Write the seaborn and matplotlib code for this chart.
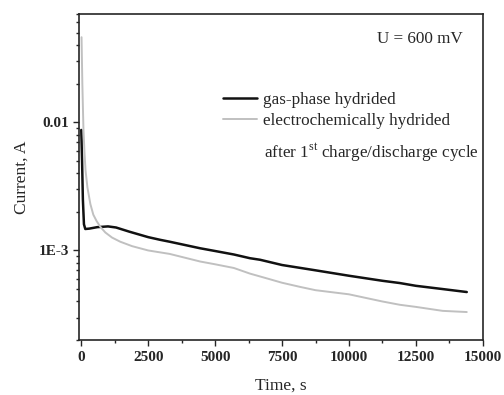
import numpy as np
import pandas as pd
import matplotlib
matplotlib.use("Agg")
import matplotlib.pyplot as plt
import seaborn as sns
from matplotlib.ticker import FixedLocator, FuncFormatter, LogLocator, NullFormatter, MultipleLocator

# data
t_gas = [0, 30, 60, 100, 150, 300, 600, 1000, 1300, 1800, 2500, 2950, 3300, 4440, 5000,
         5700, 6300, 6680, 7500, 8750, 10000, 11250, 11900, 12500, 13500, 14400]
i_gas = [0.0087, 0.005, 0.0025, 0.0016, 0.00147, 0.00148, 0.00152, 0.00154, 0.00151,
         0.0014, 0.00127, 0.00121, 0.00117, 0.00104, 0.00099, 0.00093, 0.00087,
         0.000846, 0.00077, 0.0007, 0.000635, 0.00058, 0.000557, 0.00053, 0.0005,
         0.000474]

t_el = [10, 40, 80, 120, 160, 230, 340, 450, 570, 710, 900, 1150, 1455, 1900, 2500,
        3300, 4440, 5000, 5700, 6300, 7000, 7500, 8170, 8750, 10000, 10660, 11250,
        11900, 12500, 13500, 14400]
i_el = [0.046, 0.02, 0.009, 0.0058, 0.0042, 0.0031, 0.0023, 0.0019, 0.0017, 0.00153,
        0.00138, 0.00126, 0.00117, 0.00108, 0.001, 0.00094, 0.00082, 0.00078,
        0.00073, 0.00066, 0.0006, 0.00056, 0.00052, 0.00049, 0.000455, 0.000425,
        0.0004, 0.000377, 0.000363, 0.000338, 0.000331]

series_names = ["gas-phase hydrided", "electrochemically hydrided"]

df = pd.concat([
    pd.DataFrame({"t": t_gas, "I": i_gas, "s": series_names[0]}),
    pd.DataFrame({"t": t_el, "I": i_el, "s": series_names[1]}),
])

sns.set_style("ticks")
plt.rcParams['font.family'] = ['Liberation Serif', 'DejaVu Serif']
plt.rcParams['mathtext.fontset'] = 'custom'
plt.rcParams['mathtext.rm'] = 'Liberation Serif'

fig = plt.figure(figsize=(5.04, 3.95), dpi=100)
ax = fig.add_axes([0.157, 0.139, 0.801, 0.826])

sns.lineplot(data=df, x="t", y="I", hue="s", palette=["#111111", "#c0c0c0"],
             ax=ax, legend=False, sort=False)
lines = ax.get_lines()
lines[0].set_linewidth(1.8)
lines[1].set_linewidth(1.4)

ax.set_yscale("log")
ax.set_xlim(-80, 15000)
ax.set_ylim(2e-4, 0.07)

ax.xaxis.set_major_locator(MultipleLocator(2500))
ax.xaxis.set_minor_locator(MultipleLocator(1250))
ax.yaxis.set_major_locator(FixedLocator([1e-3, 1e-2]))
ax.yaxis.set_major_formatter(FuncFormatter(lambda v, p: "1E-3" if v < 5e-3 else "0.01"))
ax.yaxis.set_minor_locator(LogLocator(base=10, subs=np.arange(2, 10), numticks=20))
ax.yaxis.set_minor_formatter(NullFormatter())

ax.tick_params(which="major", direction="out", length=4, width=1, labelsize=11)
ax.tick_params(which="minor", direction="out", length=2.5, width=1)
for lab in ax.get_xticklabels() + ax.get_yticklabels():
    lab.set_fontweight("bold")
for sp in ax.spines.values():
    sp.set_linewidth(1.2)

ax.set_xlabel("Time, s", fontsize=12.5, labelpad=10)
ax.set_ylabel("Current, A", fontsize=12.5, labelpad=6)

ax.legend(lines, series_names, loc="upper left", bbox_to_anchor=(0.357, 0.76),
          frameon=False, fontsize=12.3, handlelength=2.0, handletextpad=0.3,
          labelspacing=0.3, borderaxespad=0, borderpad=0)
ax.text(0.457, 0.576, r"after 1$^{\mathrm{st}}$ charge/discharge cycle",
        transform=ax.transAxes, fontsize=12.3, va="center", ha="left")
ax.text(0.737, 0.923, "U = 600 mV", transform=ax.transAxes, fontsize=12.3,
        va="center", ha="left")

fig.savefig("out.png", dpi=100)
